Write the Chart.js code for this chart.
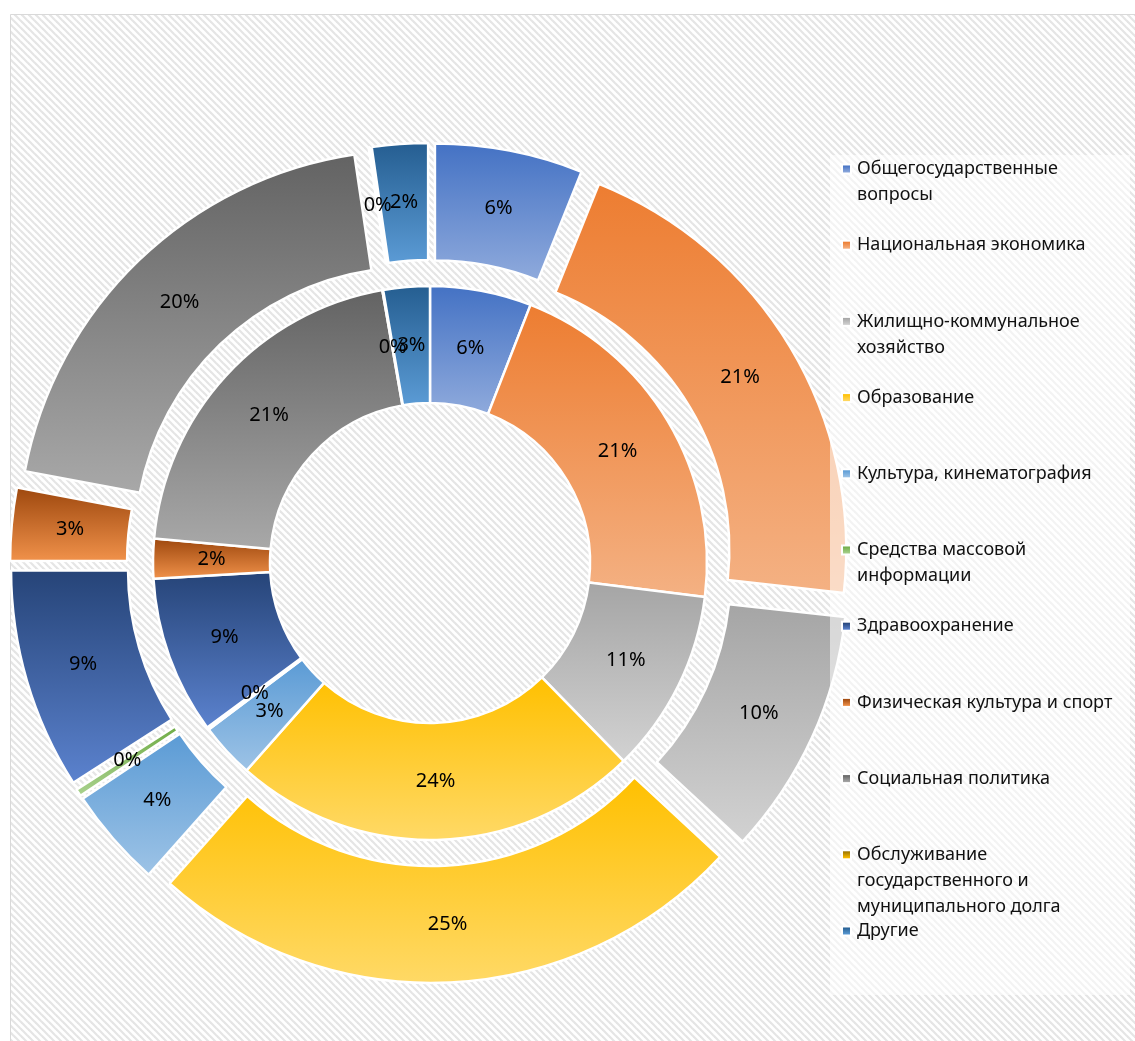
<!DOCTYPE html>
<html>
<head>
<meta charset="utf-8">
<script src="https://cdn.jsdelivr.net/npm/chart.js@4.4.0/dist/chart.umd.min.js"></script>
<style>
  html, body { margin: 0; padding: 0; background: #fff; }
  #wrap { width: 1135px; height: 1041px; position: relative; }
</style>
</head>
<body>
<div id="wrap"><canvas id="budget-chart"></canvas></div>
<script>
/* Расходы бюджета — два кольца (внешнее разнесено) */

const categories = [
    'Общегосударственные\nвопросы',
    'Национальная экономика',
    'Жилищно-коммунальное\nхозяйство',
    'Образование',
    'Культура, кинематография',
    'Средства массовой\nинформации',
    'Здравоохранение',
    'Физическая культура и спорт',
    'Социальная политика',
    'Обслуживание\nгосударственного и\nмуниципального долга',
    'Другие'
];

// outer ring (shares, %)
const outerValues = [6.1, 20.8, 10.2, 24.8, 4.1, 0.3, 9.1, 3.0, 19.8, 0.05, 2.3];
// inner ring (shares, %)
const innerValues = [5.9, 21.0, 10.7, 23.8, 3.2, 0.15, 9.2, 2.3, 20.8, 0.05, 2.7];

const topColors = ['#4472C4', '#ED7D31', '#A5A5A5', '#FFC000', '#5B9BD5', '#70AD47',
                   '#264478', '#9E480E', '#636363', '#997300', '#255E91'];
const bottomColors = ['#8FAADC', '#F4B183', '#D2D2D2', '#FFD966', '#9DC3E6', '#A9D18E',
                      '#5B82CE', '#F0914A', '#A8A8A8', '#FFC000', '#5B9BD5'];

const EXPLODE = 26;
const FONT = '"Noto Sans", "Open Sans", sans-serif';

function makeHatch() {
    const s = 7;
    const c = document.createElement('canvas');
    c.width = c.height = s;
    const g = c.getContext('2d');
    g.fillStyle = '#fff';
    g.fillRect(0, 0, s, s);
    g.strokeStyle = '#e5e5e5';
    g.lineWidth = 2.2;
    [-s, 0, s].forEach(k => {
        g.beginPath();
        g.moveTo(k - 1, -1);
        g.lineTo(k + s + 1, s + 1);
        g.stroke();
    });
    return c;
}

function verticalGradient(ctx, y0, y1, i) {
    const g = ctx.createLinearGradient(0, y0, 0, Math.max(y1, y0 + 1));
    g.addColorStop(0, topColors[i]);
    g.addColorStop(1, bottomColors[i]);
    return g;
}

function arcGradient(ctx, arc, i) {
    const {y, startAngle, endAngle, innerRadius, outerRadius} = arc;
    let minY = Infinity, maxY = -Infinity;
    for (let k = 0; k <= 32; k++) {
        const a = startAngle + (endAngle - startAngle) * k / 32;
        [innerRadius, outerRadius].forEach(r => {
            const py = y + Math.sin(a) * r;
            minY = Math.min(minY, py);
            maxY = Math.max(maxY, py);
        });
    }
    return verticalGradient(ctx, minY, maxY, i);
}

const doughnutDecor = {
    id: 'doughnutDecor',
    beforeDraw(chart) {
        const ctx = chart.ctx;
        ctx.save();
        ctx.fillStyle = '#fff';
        ctx.fillRect(0, 0, chart.width, chart.height);
        ctx.fillStyle = ctx.createPattern(makeHatch(), 'repeat');
        ctx.fillRect(10, 14, chart.width - 10, chart.height - 14);
        ctx.strokeStyle = '#d9d9d9';
        ctx.lineWidth = 1;
        ctx.beginPath();
        ctx.moveTo(10.5, chart.height);
        ctx.lineTo(10.5, 14.5);
        ctx.lineTo(chart.width, 14.5);
        ctx.stroke();
        ctx.restore();
    },
    beforeDatasetsDraw(chart) {
        chart.data.datasets.forEach((ds, di) => {
            chart.getDatasetMeta(di).data.forEach((arc, i) => {
                arc.options.backgroundColor = arcGradient(chart.ctx, arc, i);
            });
        });
    },
    beforeDatasetDraw(chart, args) {
        if (args.index !== 0) return;
        const ctx = chart.ctx;
        args.meta.data.forEach(arc => {
            const mid = (arc.startAngle + arc.endAngle) / 2;
            ctx.save();
            ctx.translate(Math.cos(mid) * EXPLODE, Math.sin(mid) * EXPLODE);
            arc.draw(ctx);
            ctx.restore();
        });
        return false;
    },
    afterDatasetsDraw(chart) {
        const ctx = chart.ctx;
        ctx.save();
        ctx.font = '20px ' + FONT;
        ctx.fillStyle = '#000';
        ctx.textAlign = 'center';
        ctx.textBaseline = 'middle';
        chart.data.datasets.forEach((ds, di) => {
            const total = ds.data.reduce((a, b) => a + b, 0);
            const shift = di === 0 ? EXPLODE : 0;
            chart.getDatasetMeta(di).data.forEach((arc, i) => {
                const mid = (arc.startAngle + arc.endAngle) / 2;
                const r = (arc.innerRadius + arc.outerRadius) / 2 + shift;
                const pct = Math.round(ds.data[i] / total * 100) + '%';
                ctx.fillText(pct, arc.x + Math.cos(mid) * r, arc.y + Math.sin(mid) * r);
            });
        });
        ctx.restore();
    },
    afterDraw(chart) {
        const ctx = chart.ctx;
        ctx.save();
        // legend panel, slightly see-through
        ctx.fillStyle = 'rgba(255,255,255,0.55)';
        ctx.fillRect(830, 155, 300, 840);

        ctx.font = '18px ' + FONT;
        ctx.textBaseline = 'middle';
        ctx.textAlign = 'left';
        categories.forEach((label, i) => {
            const y = 169 + i * 76.2;
            ctx.fillStyle = '#fff';
            ctx.fillRect(841, y - 5.5, 11, 11);
            ctx.fillStyle = verticalGradient(ctx, y - 3.5, y + 3.5, i);
            ctx.fillRect(843, y - 3.5, 7, 7);
            ctx.fillStyle = '#111';
            label.split('\n').forEach((line, k) => {
                ctx.fillText(line, 857, y + k * 26);
            });
        });
        ctx.restore();
    }
};

new Chart(document.getElementById('budget-chart'), {
    type: 'doughnut',
    data: {
        labels: categories,
        datasets: [
            {
                label: 'Внешнее кольцо',
                data: outerValues,
                backgroundColor: (c) => topColors[c.dataIndex],
                borderColor: '#FFFFFF',
                borderWidth: 2.5,
                hoverOffset: 0
            },
            {
                label: 'Внутреннее кольцо',
                data: innerValues,
                backgroundColor: (c) => topColors[c.dataIndex],
                borderColor: '#FFFFFF',
                borderWidth: 2.5,
                hoverOffset: 0
            }
        ]
    },
    options: {
        responsive: true,
        maintainAspectRatio: false,
        animation: false,
        events: [],
        radius: 394,
        cutout: (160 / 394 * 100) + '%',
        layout: { padding: { left: 0, right: 275, top: 85, bottom: 0 } },
        plugins: {
            legend: { display: false },
            tooltip: { enabled: false }
        }
    },
    plugins: [doughnutDecor]
});
</script>
</body>
</html>
